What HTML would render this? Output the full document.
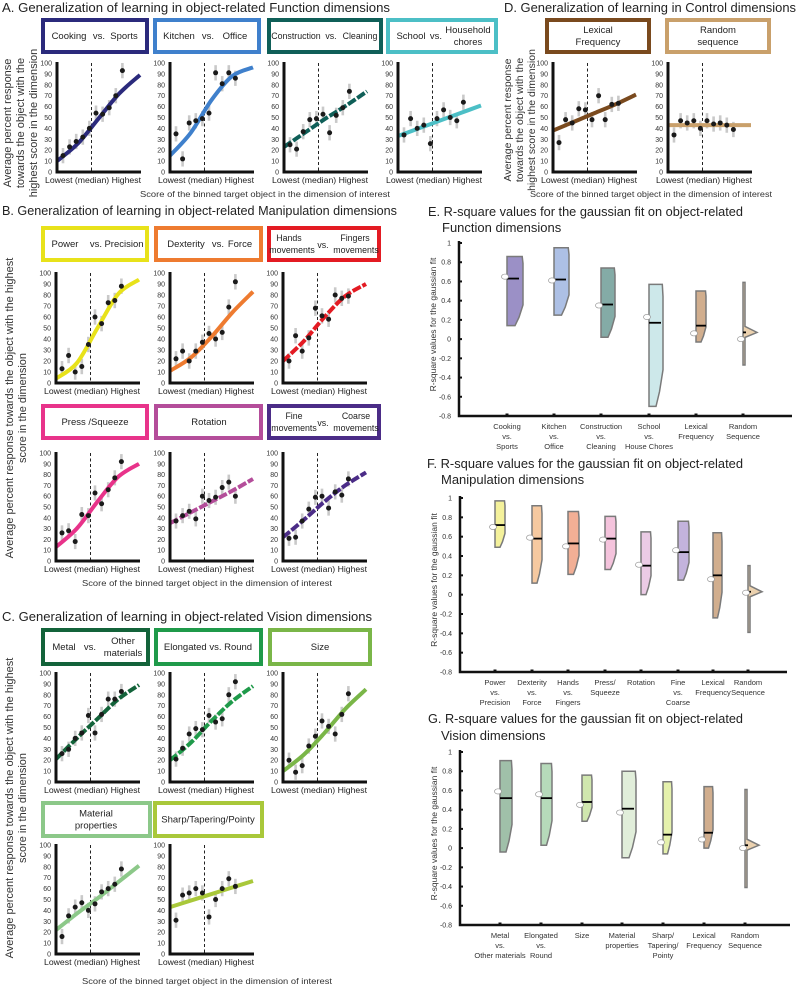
<!DOCTYPE html>
<html><head><meta charset="utf-8">
<style>
html,body{margin:0;padding:0;background:#fff;}
svg{display:block;font-family:"Liberation Sans",sans-serif;}
</style></head>
<body>
<svg id="fig" width="800" height="988" viewBox="0 0 800 988" xmlns="http://www.w3.org/2000/svg">
<g id="static">
<text x="2" y="12" font-size="13" fill="#222" textLength="388" lengthAdjust="spacingAndGlyphs">A. Generalization of learning in object-related Function dimensions</text>
<text x="504" y="12" font-size="13" fill="#222" textLength="292" lengthAdjust="spacingAndGlyphs">D. Generalization of learning in Control dimensions</text>
<text x="2" y="215" font-size="13" fill="#222" textLength="395" lengthAdjust="spacingAndGlyphs">B. Generalization of learning in object-related Manipulation dimensions</text>
<text x="2" y="621" font-size="13" fill="#222" textLength="370" lengthAdjust="spacingAndGlyphs">C. Generalization of learning in object-related Vision dimensions</text>
<text x="428" y="216" font-size="13" fill="#222" textLength="315" lengthAdjust="spacingAndGlyphs">E. R-square values for the gaussian fit on object-related</text>
<text x="442" y="232" font-size="13" fill="#222">Function dimensions</text>
<text x="427" y="468" font-size="13" fill="#222" textLength="316" lengthAdjust="spacingAndGlyphs">F. R-square values for the gaussian fit on object-related</text>
<text x="441" y="484" font-size="13" fill="#222">Manipulation dimensions</text>
<text x="428" y="723" font-size="13" fill="#222" textLength="315" lengthAdjust="spacingAndGlyphs">G. R-square values for the gaussian fit on object-related</text>
<text x="441" y="740" font-size="13" fill="#222">Vision dimensions</text>

<text x="265" y="197" font-size="8.5" fill="#333" text-anchor="middle" textLength="250" lengthAdjust="spacingAndGlyphs">Score of the binned target object in the dimension of interest</text>
<text x="651" y="197" font-size="8.5" fill="#333" text-anchor="middle" textLength="242" lengthAdjust="spacingAndGlyphs">Score of the binned target object in the dimension of interest</text>
<text x="207" y="586" font-size="8.5" fill="#333" text-anchor="middle" textLength="250" lengthAdjust="spacingAndGlyphs">Score of the binned target object in the dimension of interest</text>
<text x="207" y="984" font-size="8.5" fill="#333" text-anchor="middle" textLength="250" lengthAdjust="spacingAndGlyphs">Score of the binned target object in the dimension of interest</text>

<g font-size="11" fill="#333" text-anchor="middle">
<text transform="translate(11,123) rotate(-90)">Average percent response</text>
<text transform="translate(24,123) rotate(-90)">towards the object with the</text>
<text transform="translate(37,123) rotate(-90)">highest score in the dimension</text>
</g>
<g font-size="10.5" fill="#333" text-anchor="middle">
<text transform="translate(511,120) rotate(-90)">Average percent response</text>
<text transform="translate(523,120) rotate(-90)">towards the object with the</text>
<text transform="translate(535,120) rotate(-90)">highest score in the dimension</text>
</g>
<g font-size="11" fill="#333" text-anchor="middle">
<text transform="translate(13,408) rotate(-90)">Average percent response towards the object with the highest</text>
<text transform="translate(26,408) rotate(-90)">score in the dimension</text>
</g>
<g font-size="11" fill="#333" text-anchor="middle">
<text transform="translate(13,808) rotate(-90)">Average percent response towards the object with the highest</text>
<text transform="translate(26,808) rotate(-90)">score in the dimension</text>
</g>
</g>
</svg>
<script>
// ---------- small panel data (percent) ----------
const cookingPts=[15,23,28,32,40,54,53,59,70,93];
const cookingFit=[10,26,49,72,89];
const kitchenPts=[35,12,45,47,49,54,91,81,91,86];
const kitchenFit=[15,36,66,88,96];
const constructionPts=[25,21,37,48,49,53,36,52,59,74];
const constructionFit=[23,36,49,61,74];
const schoolPts=[34,49,40,43,26,49,57,50,47,64];
const schoolFit=[33,40,47,54,61];
const lexicalPts=[27,48,45,58,57,48,70,48,62,63];
const lexicalFit=[38,46,54,62,71];
const randomPts=[34,47,45,47,40,47,44,45,43,39];
const randomFit=[43,43,43,43,43];
const powerPts=[13,25,10,15,35,60,54,73,75,88];
const powerFit=[4,18,50,81,94];
const dexterityPts=[22,29,20,29,37,45,40,46,69,92];
const dexterityFit=[11,23,42,64,83];
const handsPts=[20,43,29,41,68,61,58,80,77,79];
const handsFit=[20,38,60,79,90];
const pressPts=[26,28,18,43,42,63,53,66,77,92];
const pressFit=[13,30,55,78,90];
const rotationPts=[37,42,46,39,60,56,59,68,73,60];
const rotationFit=[35,45,55,65,76];
const finePts=[21,22,37,48,59,60,49,64,61,76];
const fineFit=[22,38,55,70,82];
const metalPts=[26,30,40,45,61,45,62,76,76,83];
const metalFit=[21,40,58,76,89];
const elongatedPts=[21,31,44,49,48,61,55,58,80,92];
const elongatedFit=[20,36,56,74,88];
const sizePts=[20,9,15,33,42,56,51,44,62,81];
const sizeFit=[10,25,45,67,85];
const materialPts=[16,35,43,47,40,46,57,60,64,78];
const materialFit=[22,37,51,66,81];
const sharpPts=[31,54,56,60,56,34,50,60,69,62];
const sharpFit=[43,49,55,61,67];
const yTicks=[0,10,20,30,40,50,60,70,80,90,100];
const errHalf=[7,7,7,7,7,7,7,7,7,7];

// ---------- violin data ----------
const eCats=[["Cooking","vs.","Sports"],["Kitchen","vs.","Office"],["Construction","vs.","Cleaning"],["School","vs.","House Chores"],["Lexical","Frequency"],["Random","Sequence"]];
const eMin=[0.14,0.25,0.02,-0.70,-0.03,-0.27];
const eMax=[0.86,0.95,0.74,0.57,0.50,0.59];
const eMedian=[0.63,0.62,0.36,0.17,0.14,0.07];
const eMean=[0.65,0.61,0.35,0.23,0.06,0.0];
const fCats=[["Power","vs.","Precision"],["Dexterity","vs.","Force"],["Hands","vs.","Fingers"],["Press/","Squeeze"],["Rotation"],["Fine","vs.","Coarse"],["Lexical","Frequency"],["Random","Sequence"]];
const fMin=[0.49,0.12,0.21,0.26,0.0,0.15,-0.24,-0.39];
const fMax=[0.97,0.92,0.86,0.81,0.65,0.76,0.64,0.30];
const fMedian=[0.72,0.58,0.53,0.58,0.30,0.44,0.20,0.03];
const fMean=[0.70,0.59,0.50,0.57,0.31,0.46,0.16,0.02];
const gCats=[["Metal","vs.","Other materials"],["Elongated","vs.","Round"],["Size"],["Material","properties"],["Sharp/","Tapering/","Pointy"],["Lexical","Frequency"],["Random","Sequence"]];
const gMin=[-0.04,0.03,0.28,-0.10,-0.06,0.0,-0.41];
const gMax=[0.91,0.88,0.76,0.80,0.69,0.64,0.61];
const gMedian=[0.52,0.52,0.48,0.41,0.14,0.16,0.03];
const gMean=[0.59,0.56,0.45,0.37,0.06,0.09,0.0];
const rTicks=[1,0.8,0.6,0.4,0.2,0,-0.2,-0.4,-0.6,-0.8];
const rTickLabels=["1","0.8","0.6","0.4","0.2","0","-0.2","-0.4","-0.6","-0.8"];

const NS="http://www.w3.org/2000/svg";
const svg=document.getElementById('fig');
function mk(tag,attrs,parent){const e=document.createElementNS(NS,tag);for(const k in attrs)e.setAttribute(k,attrs[k]);(parent||svg).appendChild(e);return e;}

function smoothPath(pts){
  let d="M"+pts[0][0]+","+pts[0][1];
  for(let i=0;i<pts.length-1;i++){
    const p0=pts[Math.max(0,i-1)],p1=pts[i],p2=pts[i+1],p3=pts[Math.min(pts.length-1,i+2)];
    const c1x=p1[0]+(p2[0]-p0[0])/6,c1y=p1[1]+(p2[1]-p0[1])/6;
    const c2x=p2[0]-(p3[0]-p1[0])/6,c2y=p2[1]-(p3[1]-p1[1])/6;
    d+=" C"+c1x+","+c1y+" "+c2x+","+c2y+" "+p2[0]+","+p2[1];
  }
  return d;
}

function panel(p){
  const g=mk('g',{});
  
  
  const box=mk('rect',{x:p.bx+2,y:p.by+2,width:p.bw-4,height:p.bh-4,fill:'#fff',stroke:p.color,'stroke-width':4},g);
  
  
  const cy=p.by+p.bh/2;
  p.labels.forEach(function(l){
    const t=mk('text',{x:p.bx+l[0],y:cy+l[1],'font-size':p.fs||9.5,fill:'#222','text-anchor':'middle'},g);
    t.textContent=l[2];
    
    
  });
  const x0=p.x0,y0=p.y0,y100=p.y100;
  const ys=v=>y0-(y0-y100)*v/100;
  const xs=i=>x0+6+i*6.6;
  const xf=t=>x0+t*83;
  yTicks.forEach(function(v){
    const t=mk('text',{x:x0-5,y:ys(v)+2.5,'font-size':7,fill:'#333','text-anchor':'end'},g);
    t.textContent=v;
    
    
  });
  const med=mk('line',{x1:x0+34.5,x2:x0+34.5,y1:y100,y2:y0,stroke:'#222','stroke-width':1,'stroke-dasharray':'3,2.5'},g);
  
  
  p.pts.forEach(function(v,i){
    const e=mk('line',{x1:xs(i),x2:xs(i),y1:ys(v-errHalf[i]),y2:ys(v+errHalf[i]),stroke:'#c9c9c9','stroke-width':2.6},g);
    
    
  });
  const fp=p.fit.map((v,i)=>[xf(i/(p.fit.length-1)),ys(v)]);
  const c=mk('path',{d:smoothPath(fp),fill:'none',stroke:p.color,'stroke-width':4,'stroke-linecap':'butt'},g);
  if(p.dash)c.setAttribute('stroke-dasharray','9,2');
  
  
  p.pts.forEach(function(v,i){
    const d=mk('circle',{cx:xs(i),cy:ys(v),r:2.5,fill:'#1a1a1a'},g);
    
    
  });
  const ax=mk('path',{d:'M'+x0+','+(y100-1)+' L'+x0+','+(y0)+' L'+(x0+84)+','+y0,fill:'none',stroke:'#111','stroke-width':3},g);
  
  
  const xl=mk('text',{x:x0-12,y:y0+11,'font-size':8.5,fill:'#222',textLength:96,lengthAdjust:'spacingAndGlyphs'},g);
  xl.textContent='Lowest  (median) Highest';
  
  
}

const panels=[
 {name:'cooking-vs-sports',color:'#2b2a7c',pts:cookingPts,fit:cookingFit,x0:57,y100:63,y0:172,bx:41,by:18,bw:108,bh:36,labels:[[28,3,'Cooking'],[58,3,'vs.'],[83,3,'Sports']]},
 {name:'kitchen-vs-office',color:'#3f80cc',pts:kitchenPts,fit:kitchenFit,x0:170,y100:63,y0:172,bx:153,by:18,bw:108,bh:36,labels:[[26,3,'Kitchen'],[55,3,'vs.'],[82,3,'Office']]},
 {name:'construction-vs-cleaning',color:'#0f5f58',dash:true,fs:8.8,pts:constructionPts,fit:constructionFit,x0:284,y100:63,y0:172,bx:267,by:18,bw:116,bh:36,labels:[[29,3,'Construction'],[64,3,'vs.'],[93,3,'Cleaning']]},
 {name:'school-vs-household-chores',color:'#4cbfc6',pts:schoolPts,fit:schoolFit,x0:398,y100:63,y0:172,bx:386,by:18,bw:112,bh:36,labels:[[25,3,'School'],[50,3,'vs.'],[82,-3,'Household'],[82,9,'chores']]},
 {name:'lexical-frequency',color:'#7a4a1e',pts:lexicalPts,fit:lexicalFit,x0:553,y100:63,y0:172,bx:545,by:18,bw:106,bh:36,labels:[[53,-3,'Lexical'],[53,9,'Frequency']]},
 {name:'random-sequence',color:'#c9a06b',pts:randomPts,fit:randomFit,x0:668,y100:63,y0:172,bx:665,by:18,bw:106,bh:36,labels:[[53,-3,'Random'],[53,9,'sequence']]},
 {name:'power-vs-precision',color:'#e8e21a',pts:powerPts,fit:powerFit,x0:56,y100:273,y0:383,bx:41,by:226,bw:108,bh:36,labels:[[24,3,'Power'],[55,3,'vs.'],[83,3,'Precision']]},
 {name:'dexterity-vs-force',color:'#ee7b30',pts:dexterityPts,fit:dexterityFit,x0:170,y100:273,y0:383,bx:154,by:226,bw:109,bh:36,labels:[[32,3,'Dexterity'],[64,3,'vs.'],[86,3,'Force']]},
 {name:'hands-vs-fingers',color:'#e31b23',dash:true,fs:8.8,pts:handsPts,fit:handsFit,x0:283,y100:273,y0:383,bx:267,by:226,bw:114,bh:36,labels:[[22,-3,'Hands'],[25,9,'movements'],[56,4,'vs.'],[88,-3,'Fingers'],[89,9,'movements']]},
 {name:'press-squeeze',color:'#e8338a',pts:pressPts,fit:pressFit,x0:56,y100:453,y0:561,bx:41,by:404,bw:108,bh:36,labels:[[54,3,'Press /Squeeze']]},
 {name:'rotation',color:'#b44d9a',dash:true,pts:rotationPts,fit:rotationFit,x0:170,y100:453,y0:561,bx:154,by:404,bw:109,bh:36,labels:[[55,3,'Rotation']]},
 {name:'fine-vs-coarse',color:'#4b2c87',dash:true,fs:8.8,pts:finePts,fit:fineFit,x0:283,y100:453,y0:561,bx:267,by:404,bw:114,bh:36,labels:[[27,-3,'Fine'],[27,9,'movements'],[56,4,'vs.'],[89,-3,'Coarse'],[89,9,'movements']]},
 {name:'metal-vs-other',color:'#13633a',dash:true,pts:metalPts,fit:metalFit,x0:56,y100:673,y0:782,bx:41,by:628,bw:109,bh:38,labels:[[23,3,'Metal'],[49,3,'vs.'],[82,-3,'Other'],[82,9,'materials']]},
 {name:'elongated-vs-round',color:'#1f9a4a',dash:true,pts:elongatedPts,fit:elongatedFit,x0:170,y100:673,y0:782,bx:154,by:628,bw:109,bh:38,labels:[[54,3,'Elongated vs. Round']]},
 {name:'size',color:'#7ab648',pts:sizePts,fit:sizeFit,x0:283,y100:673,y0:782,bx:268,by:628,bw:104,bh:38,labels:[[52,3,'Size']]},
 {name:'material-properties',color:'#8cc889',pts:materialPts,fit:materialFit,x0:56,y100:845,y0:954,bx:41,by:801,bw:111,bh:37,labels:[[55,-3,'Material'],[55,9,'properties']]},
 {name:'sharp-tapering-pointy',color:'#a9c83a',pts:sharpPts,fit:sharpFit,x0:170,y100:845,y0:954,bx:153,by:801,bw:111,bh:37,labels:[[55,3,'Sharp/Tapering/Pointy']]}
];
panels.forEach(panel);

function violins(v){
  const g=mk('g',{});
  
  
  const ys=val=>v.yTop+(1-val)/1.8*(v.yBot-v.yTop);
  rTicks.forEach(function(t,i){
    const tl=mk('text',{x:v.x0-8,y:ys(t)+2.5,'font-size':7,fill:'#333','text-anchor':'end'},g);
    tl.textContent=rTickLabels[i];
    
    
    mk('rect',{x:v.x0,y:ys(t)-1,width:3,height:2,fill:'#111'},g);
  });
  const yl=mk('text',{transform:'translate('+(v.x0-23)+','+((v.yTop+v.yBot)/2-5)+') rotate(-90)','font-size':8.5,fill:'#333','text-anchor':'middle'},g);
  yl.textContent='R-square values for the gaussian fit';
  
  
  v.cats.forEach(function(cat,i){
    const x=v.xs[i],w=v.w[i];
    const top=ys(v.max[i]),bot=ys(v.min[i]);
    let d;
    if(v.spike[i]){
      const z=ys(v.median[i]);
      d='M'+x+','+top+' L'+(x+2)+','+top+' L'+(x+2)+','+(z-6)+' L'+(x+14)+','+z+' L'+(x+2)+','+(z+5)+' L'+(x+2)+','+bot+' L'+x+','+bot+' Z';
    } else {
      const h=bot-top;
      d='M'+x+','+top+' L'+(x+w*0.95)+','+top+' L'+(x+w)+','+(top+h*0.1)+' L'+(x+w)+','+(top+h*0.7)+' L'+(x+w*0.75)+','+(top+h*0.88)+' L'+(x+w*0.5)+','+bot+' L'+x+','+bot+' Z';
    }
    const p=mk('path',{d:d,fill:v.colors[i],'fill-opacity':0.85,stroke:'#7a7a7a','stroke-width':1.5},g);
    
    
    const ml=mk('line',{x1:x,x2:x+Math.min(w,12),y1:ys(v.median[i]),y2:ys(v.median[i]),stroke:'#000','stroke-width':1.8},g);
    
    
    const mn=mk('ellipse',{cx:x-2,cy:ys(v.mean[i]),rx:3.5,ry:2.6,fill:'#fff',stroke:'#999','stroke-width':0.7},g);
    
    
    mk('rect',{x:x-1.5,y:v.yBot-2.5,width:3,height:3,fill:'#111'},g);
    cat.forEach(function(line,j){
      const t=mk('text',{x:x,y:v.yBot+13+j*10,'font-size':7.5,fill:'#333','text-anchor':'middle'},g);
      t.textContent=line;
      
      
    });
  });
  const ax=mk('path',{d:'M'+v.x0+','+(v.yTop-2)+' L'+v.x0+','+v.yBot+' L'+v.xEnd+','+v.yBot,fill:'none',stroke:'#111','stroke-width':2.5},g);
  
  
}
violins({name:'violin-chart-e',cats:eCats,min:eMin,max:eMax,median:eMedian,mean:eMean,x0:459,xEnd:792,yTop:243,yBot:416,
 xs:[507,554,601,649,696,743],w:[16,15,14,14,10,3],spike:[0,0,0,0,0,1],
 colors:['#8a7cbc','#9fb5e0','#6f9c96','#c4e4e6','#c9a07a','#e8c9a0']});
violins({name:'violin-chart-f',cats:fCats,min:fMin,max:fMax,median:fMedian,mean:fMean,x0:460,xEnd:787,yTop:498,yBot:672,
 xs:[495,532,568,605,641,678,713,748],w:[10,10,11,11,10,11,9,3],spike:[0,0,0,0,0,0,0,1],
 colors:['#f2ee8a','#f5c08f','#f0a183','#f2b8d6','#e8c2e0','#b8a6d6','#c9a07a','#e8c9a0']});
violins({name:'violin-chart-g',cats:gCats,min:gMin,max:gMax,median:gMedian,mean:gMean,x0:460,xEnd:790,yTop:752,yBot:925,
 xs:[500,541,582,622,663,704,745],w:[12,11,10,14,9,9,3],spike:[0,0,0,0,0,0,1],
 colors:['#8fb59a','#a9d3ae','#c8e3a0','#dcebd3','#e1ef9e','#c9a07a','#e8c9a0']});
</script>
</body></html>
